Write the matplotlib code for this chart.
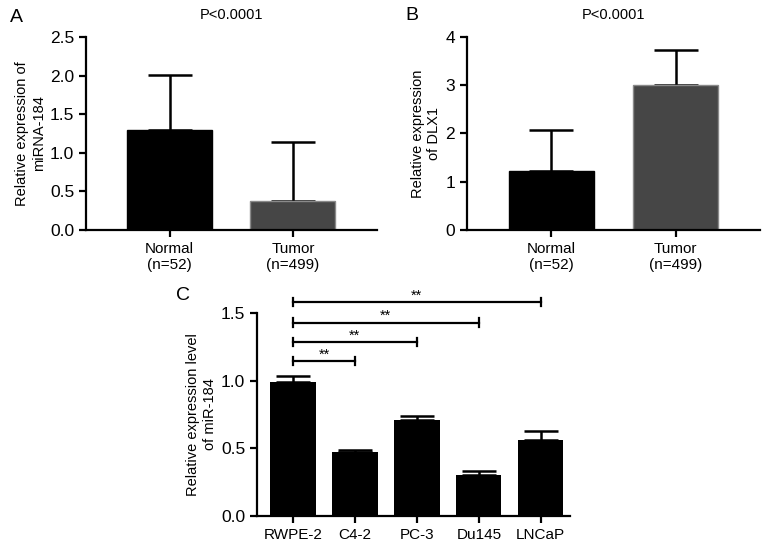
import matplotlib
matplotlib.use("Agg")
import matplotlib.pyplot as plt

plt.rcParams['font.family'] = ['Liberation Sans', 'DejaVu Sans']

# Panel A
a_groups = ["Normal\n(n=52)", "Tumor\n(n=499)"]
a_means = [1.30, 0.37]
a_err = [0.71, 0.77]
# Panel B
b_groups = ["Normal\n(n=52)", "Tumor\n(n=499)"]
b_means = [1.22, 3.00]
b_err = [0.85, 0.72]
# Panel C
c_groups = ["RWPE-2", "C4-2", "PC-3", "Du145", "LNCaP"]
c_means = [0.99, 0.47, 0.71, 0.30, 0.565]
c_err = [0.045, 0.02, 0.03, 0.035, 0.065]
c_sig_targets = [1, 2, 3, 4]
c_sig_heights = [1.145, 1.285, 1.43, 1.58]

bar_colors = ["#000000", "#464646"]
edge_colors = ["#000000", "#8a8a8a"]

fig = plt.figure(figsize=(7.65, 5.47), dpi=100)

def style(ax):
    for s in ["top", "right"]:
        ax.spines[s].set_visible(False)
    for s in ["left", "bottom"]:
        ax.spines[s].set_linewidth(1.6)
    ax.tick_params(axis='both', width=1.6, length=5, direction='out')
    ax.tick_params(axis='x', labelsize=11)
    ax.tick_params(axis='y', labelsize=12.5)

def two_bar(ax, groups, means, err, ylim, yticks, yticklabels, ylabel, title):
    x = list(range(len(groups)))
    ax.bar(x, means, width=0.69, color=bar_colors, edgecolor=edge_colors, linewidth=1.0, zorder=2)
    ax.errorbar(x, means, yerr=[[0]*len(err), err], fmt='none', ecolor='black',
                elinewidth=1.8, capsize=16, capthick=1.8, zorder=1)
    ax.set_xlim(-0.68, 1.68)
    ax.set_ylim(*ylim)
    ax.set_yticks(yticks)
    ax.set_yticklabels(yticklabels)
    ax.set_xticks(x)
    ax.set_xticklabels(groups)
    ax.set_ylabel(ylabel, fontsize=10.5, labelpad=3)
    ax.set_title(title, fontsize=10.5, pad=13)
    style(ax)

axA = fig.add_axes([0.1124, 0.5795, 0.380, 0.353])
two_bar(axA, a_groups, a_means, a_err, (0, 2.5), [0, 0.5, 1.0, 1.5, 2.0, 2.5],
        ["0.0", "0.5", "1.0", "1.5", "2.0", "2.5"], "Relative expression of\nmiRNA-184", "P<0.0001")

axB = fig.add_axes([0.6105, 0.5795, 0.383, 0.353])
two_bar(axB, b_groups, b_means, b_err, (0, 4), [0, 1, 2, 3, 4],
        ["0", "1", "2", "3", "4"], "Relative expression\nof DLX1", "P<0.0001")

axC = fig.add_axes([0.336, 0.0567, 0.409, 0.371])
xc = list(range(len(c_groups)))
axC.bar(xc, c_means, width=0.73, color="black", zorder=2)
axC.errorbar(xc, c_means, yerr=[[0]*len(c_err), c_err], fmt='none', ecolor='black',
             elinewidth=1.8, capsize=12, capthick=1.8, zorder=1)
for t, h in zip(c_sig_targets, c_sig_heights):
    axC.plot([0, t], [h, h], color='black', lw=1.6, clip_on=False)
    axC.plot([0, 0], [h - 0.03, h + 0.03], color='black', lw=1.6, clip_on=False)
    axC.plot([t, t], [h - 0.03, h + 0.03], color='black', lw=1.6, clip_on=False)
    axC.text(t / 2, h - 0.005, "**", ha='center', va='bottom', fontsize=10.5, clip_on=False)
axC.set_xlim(-0.58, 4.47)
axC.set_ylim(0, 1.5)
axC.set_yticks([0, 0.5, 1.0, 1.5])
axC.set_yticklabels(["0.0", "0.5", "1.0", "1.5"])
axC.set_xticks(xc)
axC.set_xticklabels(c_groups)
axC.set_ylabel("Relative expression level\nof miR-184", fontsize=10.5, labelpad=3)
style(axC)

fig.text(10 / 765, 1 - 18 / 547, "A", fontsize=14, va='center', ha='left')
fig.text(405 / 765, 1 - 15 / 547, "B", fontsize=14, va='center', ha='left')
fig.text(176 / 765, 1 - 296 / 547, "C", fontsize=14, va='center', ha='left')

fig.savefig("out.png", dpi=100)
